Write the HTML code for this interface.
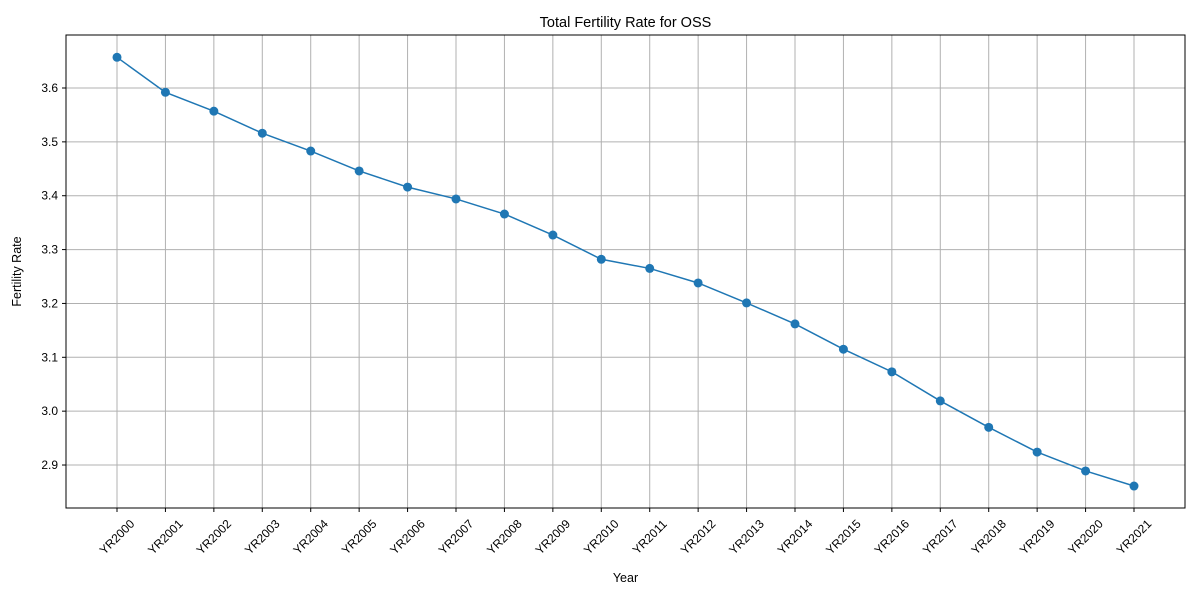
<!DOCTYPE html>
<html><head><meta charset="utf-8"><style>
html,body{margin:0;padding:0;background:#fff;}
svg{display:block;font-family:"Liberation Sans","DejaVu Sans",sans-serif;}
</style></head><body>
<svg id="chart" width="1200" height="600"></svg>
<script>
const categories = ["YR2000","YR2001","YR2002","YR2003","YR2004","YR2005","YR2006","YR2007","YR2008","YR2009","YR2010","YR2011","YR2012","YR2013","YR2014","YR2015","YR2016","YR2017","YR2018","YR2019","YR2020","YR2021"];
const fertility = [3.657,3.592,3.557,3.516,3.483,3.446,3.416,3.394,3.366,3.327,3.282,3.265,3.238,3.201,3.162,3.115,3.073,3.019,2.970,2.924,2.889,2.861];
const yTicks = [2.9,3.0,3.1,3.2,3.3,3.4,3.5,3.6];

const NS="http://www.w3.org/2000/svg";
const svg=document.getElementById('chart');
const L=66,R=1185,T=35,B=508;
const yMin=2.8202,yMax=3.6984;
const n=categories.length;
const x0=117,x1=1134;
function xs(i){return x0+(x1-x0)*i/(n-1);}
function ys(v){return B-(v-yMin)/(yMax-yMin)*(B-T);}
function mk(tag,attrs,parent){const e=document.createElementNS(NS,tag);for(const k in attrs)e.setAttribute(k,attrs[k]);(parent||svg).appendChild(e);return e;}

yTicks.forEach(v=>{
  const g=mk('line',{x1:L,x2:R,y1:ys(v),y2:ys(v),stroke:'#b0b0b0','stroke-width':1});
  
  
  mk('line',{x1:L-4,x2:L,y1:ys(v),y2:ys(v),stroke:'#000'});
  const t=mk('text',{x:L-8,y:ys(v)+4,'text-anchor':'end','font-size':12});
  t.textContent=v.toFixed(1);
  
  
});
categories.forEach((c,i)=>{
  const g=mk('line',{x1:xs(i),x2:xs(i),y1:T,y2:B,stroke:'#b0b0b0','stroke-width':1});
  
  
  mk('line',{x1:xs(i),x2:xs(i),y1:B,y2:B+4,stroke:'#000'});
  const cy=B+29;
  const t=mk('text',{x:xs(i),y:cy+4,'text-anchor':'middle','font-size':12,transform:`rotate(-45 ${xs(i)} ${cy})`});
  t.textContent=c;
  
  
});
const frame=mk('rect',{x:L,y:T,width:R-L,height:B-T,fill:'none',stroke:'#000','stroke-width':1});



const pts=fertility.map((v,i)=>xs(i)+','+ys(v)).join(' ');
const pl=mk('polyline',{points:pts,fill:'none',stroke:'#1f77b4','stroke-width':1.5});


fertility.forEach((v,i)=>{
  const c=mk('circle',{cx:xs(i),cy:ys(v),r:4.5,fill:'#1f77b4'});
  
  
});

const title=mk('text',{x:(L+R)/2,y:27,'text-anchor':'middle','font-size':14.5});
title.textContent='Total Fertility Rate for OSS';


const xl=mk('text',{x:(L+R)/2,y:582,'text-anchor':'middle','font-size':12.5});
xl.textContent='Year';


const yl=mk('text',{x:21,y:(T+B)/2,'text-anchor':'middle','font-size':12.5,transform:`rotate(-90 21 ${(T+B)/2})`});
yl.textContent='Fertility Rate';


</script>
</body></html>
